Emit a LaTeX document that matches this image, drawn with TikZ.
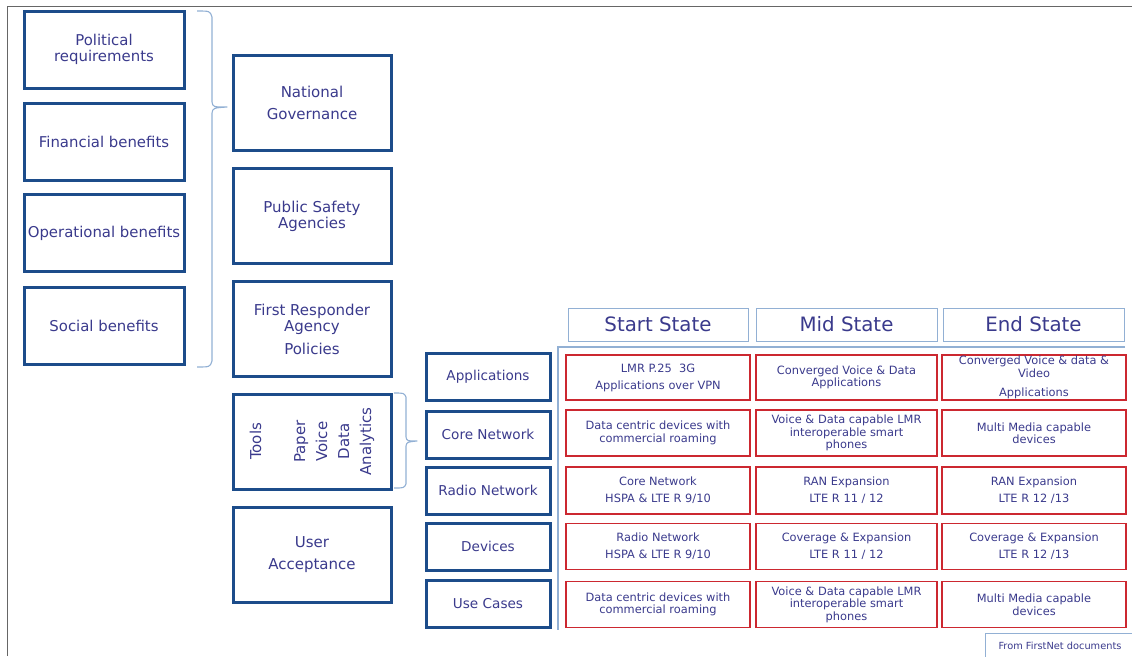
\documentclass[tikz,border=0pt]{standalone}
\usepackage{fontspec}
\setmainfont{DejaVu Sans}
\usepackage{tikz}
\usetikzlibrary{shapes}

\definecolor{txtblue}{RGB}{58,58,140}
\definecolor{boxblue}{RGB}{28,76,138}
\definecolor{cellred}{RGB}{204,40,48}
\definecolor{paleblue}{RGB}{146,176,212}

\begin{document}
\begin{tikzpicture}[x=1pt,y=-1pt,
	bluebox/.style={draw=boxblue, line width=3pt, rectangle, text=txtblue, align=center, inner sep=1pt},
	leftbox/.style={bluebox, minimum width=160pt, minimum height=77pt, font=\fontsize{14.9}{16}\selectfont},
	midbox/.style={bluebox, minimum width=158pt, minimum height=95pt, font=\fontsize{15}{16}\selectfont},
	catbox/.style={bluebox, minimum width=124pt, minimum height=47pt, font=\fontsize{13.6}{15}\selectfont},
	headbox/.style={draw=paleblue, line width=1pt, rectangle, text=txtblue, minimum height=33pt, font=\fontsize{19.8}{22}\selectfont},
	cellbox/.style={draw=cellred, line width=1.3pt, rectangle, text=txtblue, align=center, inner sep=1pt, minimum height=46pt, font=\fontsize{11.4}{12.5}\selectfont},
	brace/.style={draw=paleblue, line width=1.1pt, line join=round}]
	\useasboundingbox (0,0) rectangle (1132,656);
	\draw [gray!80!black, line width=1pt] (7,656) -- (7,6) -- (1132,6);
	% drivers
	\node [leftbox] (n1) at (104,49.5) {Political\\requirements};
	\node [leftbox] (n2) at (104,141.5) {Financial benefits};
	\node [leftbox] (n3) at (104,233) {Operational benefits};
	\node [leftbox] (n4) at (104,325.5) {Social benefits};
	% governance column
	\node [midbox] (g1) at (312,103) {National\\[6pt]Governance};
	\node [midbox] (g2) at (312,216) {Public Safety\\Agencies};
	\node [midbox] (g3) at (312,329) {First Responder\\Agency\\[7pt]Policies};
	\node [bluebox, rotate=90, minimum width=95pt, minimum height=158pt, font=\fontsize{15}{22}\selectfont] (g4) at (312,441.5) {Tools\\[22pt]Paper\\Voice\\Data\\Analytics};
	\node [midbox] (g5) at (312,554.5) {User\\[6pt]Acceptance};
	% categories
	\node [catbox] (c1) at (488,377) {Applications};
	\node [catbox] (c2) at (488,434.5) {Core Network};
	\node [catbox] (c3) at (488,490.5) {Radio Network};
	\node [catbox] (c4) at (488,546.5) {Devices};
	\node [catbox] (c5) at (488,603.5) {Use Cases};
	% states
	\node [headbox, minimum width=180pt] (h1) at (658,324.5) {Start State};
	\node [headbox, minimum width=181pt] (h2) at (846.5,324.5) {Mid State};
	\node [headbox, minimum width=181pt] (h3) at (1033.5,324.5) {End State};
	\draw [paleblue, line width=1.3pt] (1125,347) -- (558,347) -- (558,630);
	% start state cells
	\node [cellbox, minimum width=184pt, minimum height=45pt] (s1) at (658,377.5) {LMR P.25\ \ 3G\\[4.5pt]Applications over VPN};
	\node [cellbox, minimum width=184pt] (s2) at (658,433) {Data centric devices with\\commercial roaming};
	\node [cellbox, minimum width=184pt, minimum height=47pt] (s3) at (658,490.5) {Core Network\\[4.5pt]HSPA \& LTE R 9/10};
	\node [cellbox, minimum width=184pt] (s4) at (658,546.5) {Radio Network\\[4.5pt]HSPA \& LTE R 9/10};
	\node [cellbox, minimum width=184pt] (s5) at (658,604.5) {Data centric devices with\\commercial roaming};
	% mid state cells
	\node [cellbox, minimum width=181pt, minimum height=45pt] (m1) at (846.5,377.5) {Converged Voice \& Data\\Applications};
	\node [cellbox, minimum width=181pt] (m2) at (846.5,433) {Voice \& Data capable LMR\\interoperable smart\\phones};
	\node [cellbox, minimum width=181pt, minimum height=47pt] (m3) at (846.5,490.5) {RAN Expansion\\[4.5pt]LTE R 11 / 12};
	\node [cellbox, minimum width=181pt] (m4) at (846.5,546.5) {Coverage \& Expansion\\[4.5pt]LTE R 11 / 12};
	\node [cellbox, minimum width=181pt] (m5) at (846.5,604.5) {Voice \& Data capable LMR\\interoperable smart\\phones};
	% end state cells
	\node [cellbox, minimum width=184pt, minimum height=45pt] (e1) at (1034,377.5) {Converged Voice \& data \&\\Video\\[6.5pt]Applications};
	\node [cellbox, minimum width=184pt] (e2) at (1034,433) {Multi Media capable\\devices};
	\node [cellbox, minimum width=184pt, minimum height=47pt] (e3) at (1034,490.5) {RAN Expansion\\[4.5pt]LTE R 12 /13};
	\node [cellbox, minimum width=184pt] (e4) at (1034,546.5) {Coverage \& Expansion\\[4.5pt]LTE R 12 /13};
	\node [cellbox, minimum width=184pt] (e5) at (1034,604.5) {Multi Media capable\\devices};
	% source
	\node [draw=paleblue, line width=1pt, rectangle, text=txtblue, minimum width=150pt, minimum height=26pt, font=\fontsize{9.8}{11}\selectfont] (src) at (1060,646) {From FirstNet documents};
	% braces
	\draw [brace] (197,11) .. controls (210,11) .. (212,17) -- (212,102) .. controls (213,107) .. (227,107)
		.. controls (213,108) .. (212,113) -- (212,361) .. controls (210,367) .. (197,367);
	\draw [brace] (394,393) .. controls (404,393) .. (406,397) -- (406,437) .. controls (407,441) .. (417,441)
		.. controls (407,442) .. (406,446) -- (406,484) .. controls (404,488) .. (394,488);
\end{tikzpicture}
\end{document}
